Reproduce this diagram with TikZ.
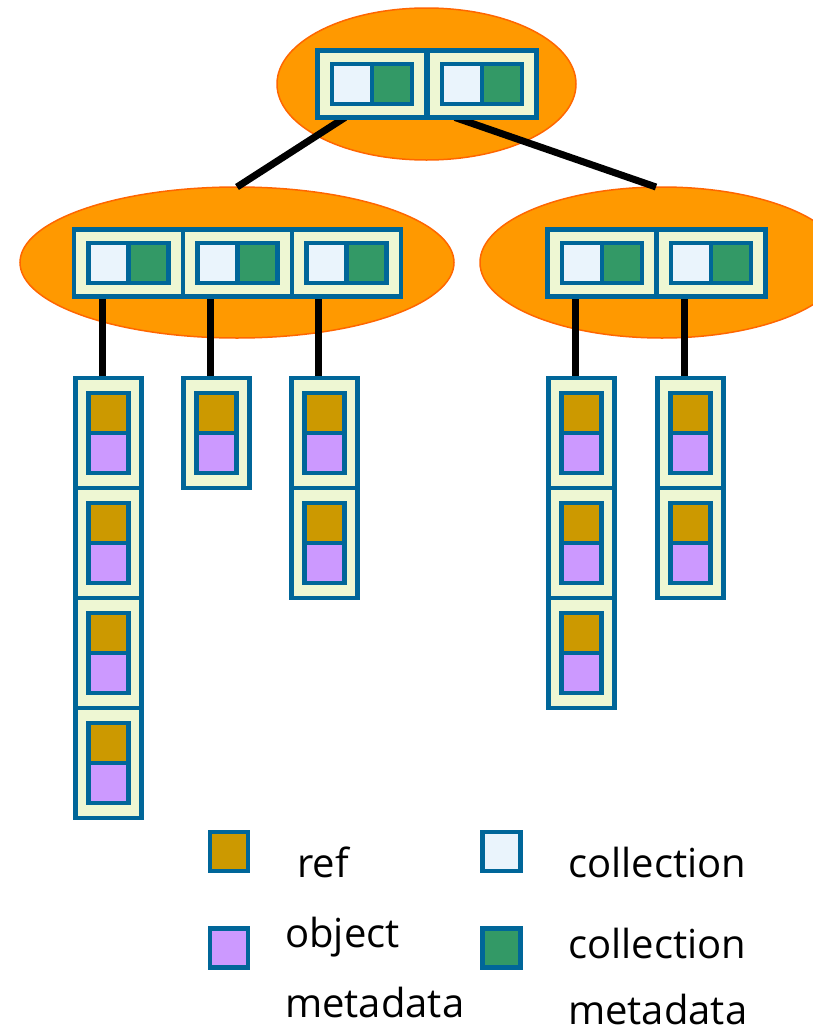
\documentclass[tikz,border=0pt]{standalone}
\usepackage{fontspec}
\setmainfont{Open Sans}
\usetikzlibrary{shapes.geometric}
\definecolor{orfill}{HTML}{FF9900}
\definecolor{ordraw}{HTML}{FF6600}
\definecolor{bblue}{HTML}{006699}
\definecolor{cellfill}{HTML}{EEF7D3}
\definecolor{lblue}{HTML}{EAF4FC}
\definecolor{dgreen}{HTML}{339966}
\definecolor{brown}{HTML}{CC9900}
\definecolor{purp}{HTML}{CC99FF}
\pgfdeclarelayer{bg}
\pgfdeclarelayer{mid}
\pgfsetlayers{bg,mid,main}
\tikzset{
  blob/.style={ellipse, draw=ordraw, fill=orfill, line width=1.5pt, inner sep=0, outer sep=0},
  hcell/.style={draw=bblue, fill=cellfill, line width=4.5pt, minimum width=109pt, minimum height=67pt, inner sep=0, outer sep=0},
  vcell/.style={draw=bblue, fill=cellfill, line width=4.5pt, minimum width=66pt, minimum height=110pt, inner sep=0, outer sep=0},
  sqr/.style={draw=bblue, line width=4.5pt, minimum width=40pt, minimum height=40pt, inner sep=0, outer sep=0},
  lsq/.style={draw=bblue, line width=4.5pt, minimum width=38pt, minimum height=39pt, inner sep=0, outer sep=0},
  conn/.style={draw=black, line width=7pt},
  lab/.style={anchor=base west, inner sep=0, font=\fontsize{40}{48}\selectfont},
}
\newcommand\hpair[3]{%
  \node[hcell] (#1) at (#2,#3) {};
  \node[sqr, fill=lblue] (#1w) at ([xshift=-20pt]#1.center) {};
  \node[sqr, fill=dgreen] (#1g) at ([xshift=20pt]#1.center) {};
}
\newcommand\vpair[3]{%
  \node[vcell] (#1) at (#2,#3) {};
  \node[sqr, fill=brown] (#1r) at ([yshift=20pt]#1.center) {};
  \node[sqr, fill=purp] (#1m) at ([yshift=-20pt]#1.center) {};
}
\begin{document}
\begin{tikzpicture}[x=1pt,y=-1pt]
\useasboundingbox (0,0) rectangle (812,1034);
\clip (0,0) rectangle (812,1034);
\begin{pgfonlayer}{bg}
  \node[blob, minimum width=299pt, minimum height=152pt] (e0) at (426.5,84) {};
  \node[blob, minimum width=434pt, minimum height=151pt] (e1) at (237,262.5) {};
  \node[blob, minimum width=364pt, minimum height=151pt] (e2) at (662,262.5) {};
\end{pgfonlayer}
% top
\hpair{t1}{372}{84}
\hpair{t2}{482}{84}
% level 2 left
\hpair{a1}{128.5}{263}
\hpair{a2}{237.5}{263}
\hpair{a3}{346.5}{263}
% level 2 right
\hpair{b1}{602}{263}
\hpair{b2}{711}{263}
% columns
\vpair{p1}{108.5}{433}
\vpair{p2}{108.5}{543}
\vpair{p3}{108.5}{653}
\vpair{p4}{108.5}{763}
\vpair{q1}{216.5}{433}
\vpair{r1}{324.5}{433}
\vpair{r2}{324.5}{543}
\vpair{s1}{581.5}{433}
\vpair{s2}{581.5}{543}
\vpair{s3}{581.5}{653}
\vpair{u1}{690.5}{433}
\vpair{u2}{690.5}{543}
\begin{pgfonlayer}{mid}
  \draw[conn] ([xshift=-27pt]t1.south) -- (e1.north);
  \draw[conn] ([xshift=-27pt]t2.south) -- ([xshift=-6pt]e2.north);
  \draw[conn] ([xshift=-6.5pt]p1.north) -- ([xshift=-6.5pt]p1.north |- a1.south);
  \draw[conn] ([xshift=-6.5pt]q1.north) -- ([xshift=-6.5pt]q1.north |- a2.south);
  \draw[conn] ([xshift=-6.5pt]r1.north) -- ([xshift=-6.5pt]r1.north |- a3.south);
  \draw[conn] ([xshift=-6.5pt]s1.north) -- ([xshift=-6.5pt]s1.north |- b1.south);
  \draw[conn] ([xshift=-6.5pt]u1.north) -- ([xshift=-6.5pt]u1.north |- b2.south);
\end{pgfonlayer}
% legend
\node[lsq, fill=brown] (k1) at (229,851.5) {};
\node[lsq, fill=purp] (k2) at (229,948) {};
\node[lsq, fill=lblue] (k3) at (501.5,851.5) {};
\node[lsq, fill=dgreen] (k4) at (501.5,948) {};
\node[lab] (l1) at (297,877) {ref};
\node[lab] (l2) at (285,947) {object};
\node[lab] (l2b) at (285,1017) {metadata};
\node[lab] (l3) at (568,877) {collection};
\node[lab] (l4) at (568,958) {collection};
\node[lab] (l4b) at (568,1024) {metadata};
\end{tikzpicture}
\end{document}
